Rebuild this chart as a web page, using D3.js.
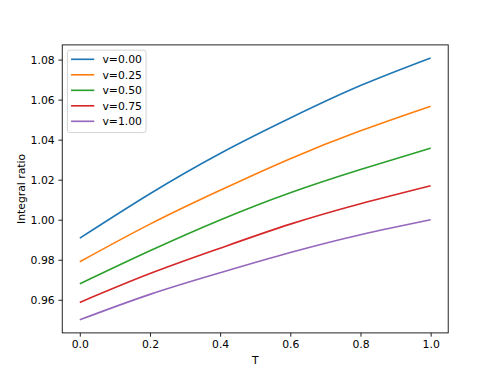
<!DOCTYPE html>
<html>
<head>
<meta charset="utf-8">
<script src="https://cdn.jsdelivr.net/npm/d3@7"></script>
<style>
  body { margin: 0; background: #fff; }
  svg { display: block; font-family: "DejaVu Sans", sans-serif; }
</style>
</head>
<body>
<svg></svg>
<script>
// T grid and one series per v
const tValues = [0.0, 0.2, 0.4, 0.6, 0.8, 1.0];
const v000 = [0.9908, 1.0130, 1.0331, 1.0508, 1.0670, 1.0808];
const v025 = [0.9790, 0.9978, 1.0147, 1.0305, 1.0444, 1.0567];
const v050 = [0.9680, 0.9845, 0.9999, 1.0135, 1.0251, 1.0358];
const v075 = [0.9587, 0.9731, 0.9858, 0.9978, 1.0080, 1.0170];
const v100 = [0.9500, 0.9627, 0.9735, 0.9836, 0.9925, 1.0000];
const seriesNames = ["v=0.00", "v=0.25", "v=0.50", "v=0.75", "v=1.00"];
const xTicks = [0.0, 0.2, 0.4, 0.6, 0.8, 1.0];
const yTicks = [0.96, 0.98, 1.00, 1.02, 1.04, 1.06, 1.08];

const series = [v000, v025, v050, v075, v100].map((vals, i) => ({
  name: seriesNames[i],
  points: vals.map((y, j) => ({ t: tValues[j], y }))
}));

const W = 498, H = 374;
const margin = { top: 44.9, right: 49.8, bottom: 41.1, left: 62.25 };
const width = W - margin.left - margin.right;
const height = H - margin.top - margin.bottom;

const svg = d3.select("svg").attr("width", W).attr("height", H);
const chart = svg.append("g")
  .attr("transform", `translate(${margin.left},${margin.top})`);

const color = d3.scaleOrdinal()
  .domain(seriesNames)
  .range(["#1f77b4", "#ff7f0e", "#2ca02c", "#d62728", "#9467bd"]);

// matplotlib style 5% margins
const allY = series.flatMap(s => s.points.map(p => p.y));
const yMin = d3.min(allY), yMax = d3.max(allY);
const yPad = (yMax - yMin) * 0.05;

const x = d3.scaleLinear().domain([-0.05, 1.05]).range([0, width]);
const y = d3.scaleLinear().domain([yMin - yPad, yMax + yPad]).range([height, 0]);

const fontSize = "10.8px";

const xAxis = chart.append("g")
  .attr("transform", `translate(0,${height})`)
  .call(d3.axisBottom(x).tickValues(xTicks).tickFormat(d3.format(".1f"))
    .tickSizeInner(3.8).tickSizeOuter(0).tickPadding(3.8));
const yAxis = chart.append("g")
  .call(d3.axisLeft(y).tickValues(yTicks).tickFormat(d3.format(".2f"))
    .tickSizeInner(3.8).tickSizeOuter(0).tickPadding(3.8));

[xAxis, yAxis].forEach(a => {
  a.select(".domain").remove();
  a.selectAll("line").attr("stroke", "#000").attr("stroke-width", 0.86);
  a.selectAll("text").attr("fill", "#000").style("font-size", fontSize)
    .style("font-family", "DejaVu Sans");
});

const line = d3.line()
  .x(d => x(d.t))
  .y(d => y(d.y))
  .curve(d3.curveNatural);

chart.selectAll(".series")
  .data(series)
  .join("path")
  .attr("class", "series")
  .attr("fill", "none")
  .attr("stroke", d => color(d.name))
  .attr("stroke-width", 1.62)
  .attr("d", d => line(d.points));

// frame
chart.append("rect")
  .attr("width", width)
  .attr("height", height)
  .attr("fill", "none")
  .attr("stroke", "#000")
  .attr("stroke-width", 0.86);

chart.append("text")
  .attr("x", width / 2)
  .attr("y", height + 31)
  .attr("text-anchor", "middle")
  .style("font-size", fontSize)
  .text("T");

chart.append("text")
  .attr("transform", "rotate(-90)")
  .attr("x", -height / 2)
  .attr("y", -37.5)
  .attr("text-anchor", "middle")
  .style("font-size", fontSize)
  .text("Integral ratio");

// legend
const legend = chart.append("g").attr("transform", "translate(5.2,5.2)");
legend.append("rect")
  .attr("width", 78.6)
  .attr("height", 82.5)
  .attr("rx", 2.5)
  .attr("fill", "#fff")
  .attr("fill-opacity", 0.8)
  .attr("stroke", "#ccc")
  .attr("stroke-width", 0.86);

seriesNames.forEach((name, i) => {
  const row = legend.append("g").attr("transform", `translate(0,${9.2 + i * 15.5})`);
  row.append("line")
    .attr("x1", 3.6).attr("x2", 26.8)
    .attr("stroke", color(name))
    .attr("stroke-width", 1.62);
  row.append("text")
    .attr("x", 35)
    .attr("dy", "0.36em")
    .style("font-size", fontSize)
    .text(name);
});
</script>
</body>
</html>
